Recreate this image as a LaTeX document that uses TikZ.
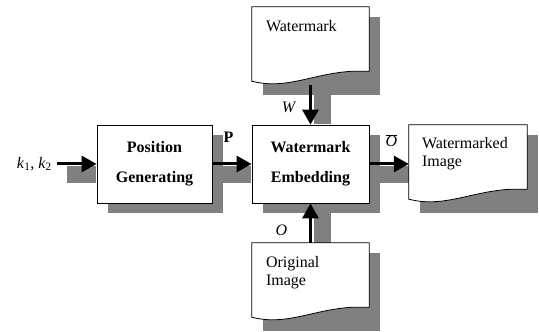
\documentclass[tikz,border=0pt]{standalone}
\usepackage{fontspec}
\setmainfont{Liberation Serif}
\usetikzlibrary{shadows,arrows.meta}

% outline of a document symbol, wavy bottom edge
\newcommand{\docoutline}[1]{%
  \draw[docline] (#1.north west) -- (#1.north east) -- ([yshift=14pt]#1.south east)
    -- ++(-16pt,0) .. controls +(-40pt,-2pt) and +(35pt,-9pt) .. ([yshift=4pt]#1.south west) -- cycle;}

\begin{document}
\begin{tikzpicture}[x=1pt, y=1pt,
every node/.style={inner sep=0pt},
shadowfill/.style={fill=gray, draw=none},
block/.style={draw, line width=0.8pt, fill=white, minimum width=115pt, minimum height=78pt,
        align=center, font=\fontsize{16}{30}\selectfont\bfseries,
        drop shadow={shadow xshift=11pt, shadow yshift=-10pt, opacity=1, fill=gray}},
docframe/.style={draw=none, minimum width=117pt, minimum height=78pt,
        drop shadow={shadow xshift=11pt, shadow yshift=-10pt, opacity=1, fill=gray}},
docline/.style={draw, line width=0.8pt, fill=white},
doctext/.style={align=left, font=\fontsize{16}{18.5}\selectfont},
lbl/.style={font=\fontsize{16}{18}\selectfont},
flow/.style={line width=3pt, -{Triangle[length=15pt,width=16pt]}}
]
  \useasboundingbox (0,0) rectangle (539,332);

  % documents (shadow only) and blocks
  \node[docframe] (wm) at (310.5,286) {};
  \node[docframe] (orig) at (310.5,50) {};
  \node[docframe, minimum width=118pt] (wmi) at (468,168) {};
  \node[block] (pos) at (154.5,168) {Position\\Generating};
  \node[block, minimum width=117pt] (emb) at (310.5,168) {Watermark\\Embedding};
  \coordinate (kin) at (57,168);

  % shadows of the arrows
  \fill[shadowfill] ([shift={(10pt,-2pt)}]kin) rectangle ([shift={(-0.5pt,-19pt)}]pos.west);
  \fill[shadowfill] ([shift={(0.5pt,-2pt)}]pos.east) rectangle ([shift={(-0.5pt,-19pt)}]emb.west);
  \fill[shadowfill] ([shift={(0.5pt,-2pt)}]emb.east) rectangle ([yshift=-19pt]wmi.west);
  \fill[shadowfill] ([xshift=3pt]wm.south) rectangle ([shift={(20pt,0.5pt)}]emb.north);
  \fill[shadowfill] ([shift={(3pt,-0.5pt)}]emb.south) rectangle ([xshift=20pt]orig.north);

  \draw[flow] (kin) -- (pos.west);
  \draw[flow] (pos.east) -- (emb.west);
  \draw[flow] (emb.east) -- (wmi.west);
  \draw[flow] (wm.south) -- (emb.north);
  \draw[flow] (orig.north) -- (emb.south);

  \docoutline{wm}
  \docoutline{orig}
  \docoutline{wmi}
  \node[doctext, anchor=north west] (wmtxt) at ([shift={(14pt,-13pt)}]wm.north west) {Watermark};
  \node[doctext, anchor=north west] (origtxt) at ([shift={(14pt,-13pt)}]orig.north west) {Original\\Image};
  \node[doctext, anchor=north west] (wmitxt) at ([shift={(13pt,-12pt)}]wmi.north west) {Watermarked\\Image};

  % labels
  \node[lbl, anchor=east] (klbl) at ([xshift=-5pt]kin) {\textit{k}\textsubscript{1}, \textit{k}\textsubscript{2}};
  \node[lbl, anchor=base west] (plbl) at ([shift={(11pt,21pt)}]pos.east) {\textbf{P}};
  \node[lbl, anchor=base east] (wlbl) at ([shift={(-14pt,12pt)}]emb.north) {\textit{W}};
  \node[lbl, anchor=base west] (obarlbl) at ([shift={(16pt,17pt)}]emb.east) {$\overline{\mbox{\textit{O}}}$};
  \node[lbl, anchor=base east] (olbl) at ([shift={(-23pt,7pt)}]orig.north) {\textit{O}};
\end{tikzpicture}
\end{document}
